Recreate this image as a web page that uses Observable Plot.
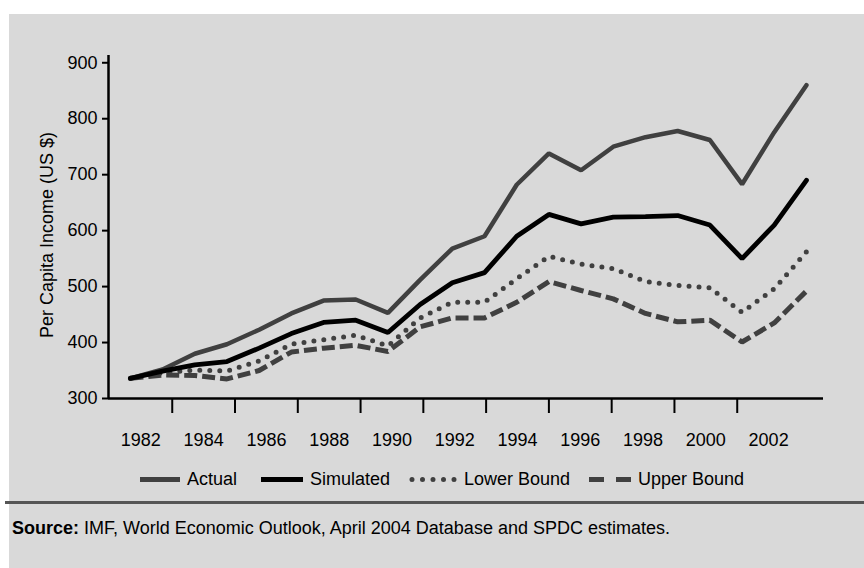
<!DOCTYPE html>
<html>
<head>
<meta charset="utf-8">
<script src="https://cdn.jsdelivr.net/npm/d3@7"></script>
<script src="https://cdn.jsdelivr.net/npm/@observablehq/plot@0.6"></script>
<style>
html,body{margin:0;padding:0;background:#fff;width:864px;height:568px;overflow:hidden;font-family:"Liberation Sans",Arial,sans-serif;color:#000;}
#bg{position:absolute;left:9px;top:14px;width:855px;height:554px;background:#d9d9d9;}
#chart{position:absolute;left:0;top:0;}
#ytitle{position:absolute;left:47px;top:235px;transform:translate(-50%,-50%) rotate(-90deg);font-size:18px;white-space:nowrap;}
.leg{position:absolute;top:479px;transform:translateY(-50%);font-size:18px;display:flex;align-items:center;white-space:nowrap;}
.leg svg{display:block;margin-right:7px;}
#sep{position:absolute;left:5px;right:0;top:501px;height:3px;background:#555;}
#src{position:absolute;left:12px;top:518px;font-size:18px;}
</style>
</head>
<body>
<div id="bg"></div>
<div id="chart"></div>
<div id="ytitle">Per Capita Income (US $)</div>
<div id="legend"></div>
<div id="sep"></div>
<div id="src"><b>Source:</b> IMF, World Economic Outlook, April 2004 Database and SPDC estimates.</div>
<script>
const years = [1982,1983,1984,1985,1986,1987,1988,1989,1990,1991,1992,1993,1994,1995,1996,1997,1998,1999,2000,2001,2002,2003];
const actual    = [336,352,380,397,423,452,475,477,453,512,568,590,682,738,708,750,767,778,762,683,776,860];
const simulated = [336,349,360,366,390,416,436,440,418,468,507,525,590,629,612,624,625,627,610,550,610,690];
const lowerBound= [336,346,351,349,367,397,405,413,394,444,472,472,514,554,540,532,509,502,498,454,496,562];
const upperBound= [336,342,341,335,350,383,390,395,384,428,444,444,472,509,493,478,452,437,440,401,435,492];
const yTicks = [300,400,500,600,700,800,900];
const xTickYears = [1983.3,1985.25,1987.2,1989.15,1991.1,1993.05,1995.0,1996.95,1998.9,2000.85];
const xLabels = ["1982","1984","1986","1988","1990","1992","1994","1996","1998","2000","2002"];
const seriesNames = ["Actual","Simulated","Lower Bound","Upper Bound"];

const xDomain = [1981.32, 2003.53];
const pts = vals => years.map((y,i) => ({year: y, value: vals[i]}));
const labelPos = xLabels.map((l,i) => ({x: (i < xTickYears.length ? xTickYears[i] : xTickYears[xTickYears.length-1] + 1.95) - 0.975, label: l}));

const styles = {
  "Actual": {stroke:"#404040", strokeWidth:4.5},
  "Simulated": {stroke:"#000", strokeWidth:4.8},
  "Lower Bound": {stroke:"#404040", strokeWidth:5, strokeDasharray:"0,10", strokeLinecap:"round"},
  "Upper Bound": {stroke:"#404040", strokeWidth:5, strokeDasharray:"13,5", strokeLinecap:"butt"}
};

const plot = Plot.plot({
  width: 864, height: 460,
  marginLeft: 108, marginRight: 41, marginTop: 55, marginBottom: 62,
  style: {background:"transparent", fontFamily:"'Liberation Sans', Arial, sans-serif", fontSize:"18px", color:"#000", overflow:"visible"},
  x: {domain: xDomain},
  y: {domain: [300, 913]},
  marks: [
    Plot.axisY(yTicks, {tickSize: 6, tickPadding: 5, strokeWidth: 2, fontSize: 18, label: null}),
    Plot.axisX(xTickYears, {tickSize: 15, tickFormat: () => "", strokeWidth: 2, label: null}),
    Plot.text(labelPos, {x: "x", text: "label", frameAnchor: "bottom", dy: 42, lineAnchor: "middle", fontSize: 18}),
    Plot.line(pts(upperBound), {x:"year", y:"value", ...styles["Upper Bound"], strokeLinejoin:"miter"}),
    Plot.line(pts(lowerBound), {x:"year", y:"value", ...styles["Lower Bound"]}),
    Plot.line(pts(actual), {x:"year", y:"value", ...styles["Actual"], strokeLinejoin:"miter"}),
    Plot.line(pts(simulated), {x:"year", y:"value", ...styles["Simulated"], strokeLinejoin:"miter"}),
    Plot.ruleY([300], {strokeWidth: 2.5}),
    Plot.ruleX([xDomain[0]], {strokeWidth: 2.5})
  ]
});
document.getElementById("chart").appendChild(plot);

// legend
const legLeft = {"Actual":140, "Simulated":261, "Lower Bound":409, "Upper Bound":589};
const legW = {"Actual":40, "Simulated":42, "Lower Bound":48, "Upper Bound":42};
const legend = document.getElementById("legend");
seriesNames.forEach(name => {
  const s = styles[name];
  const d = document.createElement("div");
  d.className = "leg";
  d.style.left = legLeft[name] + "px";
  const w = legW[name];
  const dash = name === "Upper Bound" ? "15,12" : (s.strokeDasharray || "none");
  d.innerHTML = `<svg width="${w}" height="10"><line x1="${name==="Lower Bound"?3:0}" y1="5" x2="${w}" y2="5" stroke="${s.stroke}" stroke-width="5" stroke-dasharray="${name==="Lower Bound"?"0,10.5":dash}" stroke-linecap="${s.strokeLinecap||"butt"}"/></svg><span>${name}</span>`;
  legend.appendChild(d);
});
</script>
</body>
</html>
